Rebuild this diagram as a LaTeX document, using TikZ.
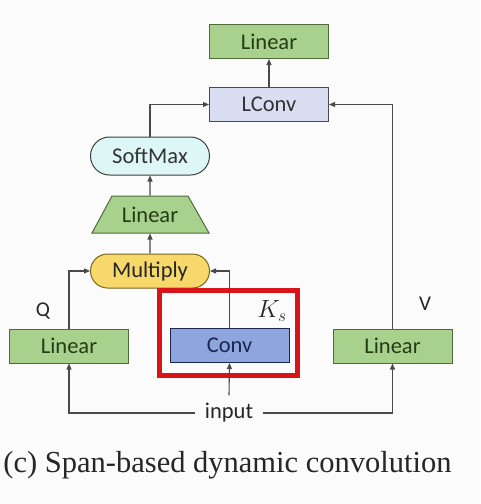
\documentclass[tikz,border=0pt]{standalone}
\usepackage{fontspec}
\setmainfont{Liberation Serif}
\setsansfont{Carlito}
\usetikzlibrary{positioning,shapes.misc,arrows.meta}

\definecolor{lingreen}{HTML}{A9D18E}
\definecolor{lingreenline}{HTML}{4F6B38}
\definecolor{lintext}{HTML}{243C16}
\definecolor{lconvfill}{HTML}{D9DEF2}
\definecolor{convfill}{HTML}{8FA5DE}
\definecolor{convtext}{HTML}{1A2850}
\definecolor{softfill}{HTML}{DDF6F6}
\definecolor{multfill}{HTML}{F6D96A}
\definecolor{multline}{HTML}{7A6420}
\definecolor{wiregray}{HTML}{4A4A4A}
\definecolor{boxred}{HTML}{D7141A}

\begin{document}
\begin{tikzpicture}[x=1pt, y=-1pt, >={Triangle[length=6pt,width=5pt]},
    main/.style = {draw, font=\sffamily\fontsize{22.5}{22.5}\selectfont, minimum width=119pt, minimum height=34pt, inner sep=0pt, line width=1pt},
    lin/.style = {main, fill=lingreen, draw=lingreenline, text=lintext},
    pill/.style = {main, rounded rectangle},
    wire/.style = {draw=wiregray, line width=1.1pt}]
    \fill[gray!3] (0,0) rectangle (480,504);

    \node[lin](linout) at (269, 41.5) {Linear};
    \node[main, fill=lconvfill, draw=wiregray, text=black!80](lconv) [below = 28pt of linout] {LConv};

    \node[pill, fill=softfill, draw=black!75, text=black!80, minimum height=38pt](soft) at (150, 156) {SoftMax};
    % trapezoid drawn by hand behind its label
    \filldraw[fill=lingreen, draw=lingreenline, line width=1pt] (92, 233) -- (112, 196) -- (188, 196) -- (209, 233) -- cycle;
    \node[main, draw=none, text=lintext, minimum height=37pt](linmid) at (150, 214.5) {Linear};
    \node[pill, fill=multfill, draw=multline, text=black!85](mult) at (150, 271) {Multiply};

    \node[lin](linq) at (69, 346) {Linear};
    \node[main, fill=convfill, draw=convtext, text=convtext](conv) at (229.5, 345.5) {Conv};
    \node[lin](linv) at (392.5, 346) {Linear};

    \node[font=\sffamily\fontsize{21}{21}\selectfont, text=black!85](q) at (43, 311) {Q};
    \node[font=\sffamily\fontsize{21}{21}\selectfont, text=black!85](v) at (425, 304) {V};
    \node[font=\fontsize{23}{23}\selectfont, text=black!85](ks) at (272, 311) {$K_s$};
    \node[font=\sffamily\fontsize{22.5}{22.5}\selectfont, text=black!85, inner xsep=10pt, inner ysep=8pt](in) at (229, 413) {input};

    \draw[boxred, line width=5pt] (159.5, 290.5) rectangle (297.5, 375.5);

    \draw[->, wire](lconv) -- (linout);
    \draw[->, wire](soft.north) |- (lconv.west);
    \draw[->, wire](linv.north) |- (lconv.east);
    \draw[->, wire](linmid) -- (soft);
    \draw[->, wire](mult) -- (linmid);
    \draw[->, wire](linq.north) |- (mult.west);
    \draw[->, wire](conv.north) |- (mult.east);

    \draw[->, wire](in.west) -| (linq.south);
    \draw[->, wire](in.east) -| (linv.south);
    \draw[->, wire](in.north) -- (conv.south);

    \node[font=\fontsize{30.5}{30.5}\selectfont, text=black!85](cap) at (227.5, 465) {(c) Span-based dynamic convolution};
\end{tikzpicture}
\end{document}
